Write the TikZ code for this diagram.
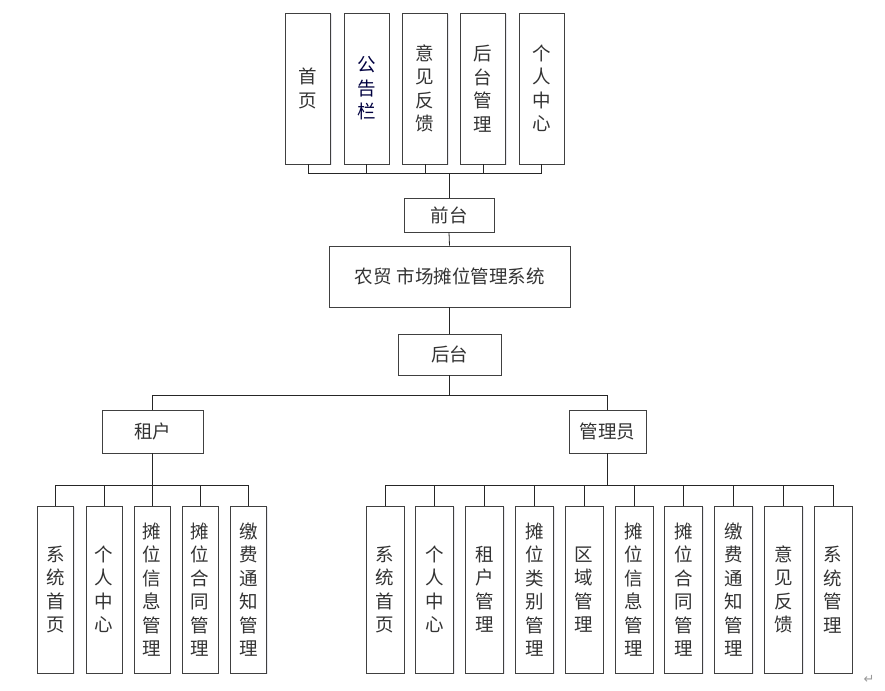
\documentclass[tikz,border=0pt]{standalone}
\usepackage{fontspec}
\setmainfont{Noto Sans CJK SC}
\newfontfamily\symfont{DejaVu Sans}
\usetikzlibrary{shadows}
\begin{document}
\begin{tikzpicture}[x=1pt,y=-1pt,
  box/.style={draw=black!75, line width=0.8pt, fill=white, inner sep=0pt,
    text=black!80, font=\fontsize{18.5}{23.5}\selectfont, align=center,
    drop shadow={shadow xshift=1.2pt, shadow yshift=-1.4pt, opacity=0.3, fill=blue!15!gray!50}},
  tall/.style={box, minimum width=45pt, minimum height=151pt},
  leaf/.style={box, minimum width=36pt, minimum height=167pt},
  rleaf/.style={box, minimum width=38pt, minimum height=167pt},
  link/.style={draw=black!85, line width=0.8pt}]
\useasboundingbox (0,0) rectangle (885,690);

% top level
\node[tall] (t1) at (308,88.5) {首\\页};
\node[tall, text=blue!25!black] (t2) at (366.5,88.5) {公\\告\\栏};
\node[tall] (t3) at (425,88.5) {意\\见\\反\\馈};
\node[tall] (t4) at (483,88.5) {后\\台\\管\\理};
\node[tall] (t5) at (541.5,88.5) {个\\人\\中\\心};

\node[box, minimum width=90pt, minimum height=34pt] (qt) at (449,215) {前台};
\node[box, minimum width=241pt, minimum height=61pt] (sys) at (449.5,276.5) {农贸\hspace{5pt}市场摊位管理系统};
\node[box, minimum width=103pt, minimum height=41pt] (ht) at (449.5,354.5) {后台};
\node[box, minimum width=101pt, minimum height=43pt] (zh) at (152.5,431.5) {租户};
\node[box, minimum width=77pt, minimum height=43pt] (gly) at (607.5,431.5) {管理员};

% tenant leaves
\node[leaf] (l1) at (55.5,589.5) {系\\统\\首\\页};
\node[leaf] (l2) at (104,589.5) {个\\人\\中\\心};
\node[leaf] (l3) at (152,589.5) {摊\\位\\信\\息\\管\\理};
\node[leaf] (l4) at (200,589.5) {摊\\位\\合\\同\\管\\理};
\node[leaf] (l5) at (248.5,589.5) {缴\\费\\通\\知\\管\\理};

% admin leaves
\node[rleaf] (r1) at (385,589.5) {系\\统\\首\\页};
\node[rleaf] (r2) at (434.8,589.5) {个\\人\\中\\心};
\node[rleaf] (r3) at (484.6,589.5) {租\\户\\管\\理};
\node[rleaf] (r4) at (534.4,589.5) {摊\\位\\类\\别\\管\\理};
\node[rleaf] (r5) at (584.2,589.5) {区\\域\\管\\理};
\node[rleaf] (r6) at (634,589.5) {摊\\位\\信\\息\\管\\理};
\node[rleaf] (r7) at (683.8,589.5) {摊\\位\\合\\同\\管\\理};
\node[rleaf] (r8) at (733.6,589.5) {缴\\费\\通\\知\\管\\理};
\node[rleaf] (r9) at (783.4,589.5) {意\\见\\反\\馈};
\node[rleaf] (r10) at (833.2,589.5) {系\\统\\管\\理};

\node[text=black!40, font=\symfont\fontsize{13}{13}\selectfont, inner sep=0pt] (ret) at (869,679) {↵};

% bus points
\coordinate (b1) at (449,173);
\coordinate (b2) at (449.5,395);
\coordinate (b3) at (152.5,485);
\coordinate (b4) at (607.5,485);

\draw[link] (qt.north) -- (b1);
\foreach \n in {t1,t2,t3,t4,t5} \draw[link] (\n.south) |- (b1);
\draw[link] (qt.south) -- (sys.north);
\draw[link] (sys.south) -- (ht.north);
\draw[link] (ht.south) -- (b2);
\draw[link] (zh.north) |- (b2);
\draw[link] (gly.north) |- (b2);
\draw[link] (zh.south) -- (b3);
\foreach \n in {l1,l2,l3,l4,l5} \draw[link] (\n.north) |- (b3);
\draw[link, line width=1.4pt] (gly.south) -- (b4);
\foreach \n in {r1,r2,r3,r4,r5,r6,r7,r8,r9,r10} \draw[link] (\n.north) |- (b4);
\end{tikzpicture}
\end{document}
